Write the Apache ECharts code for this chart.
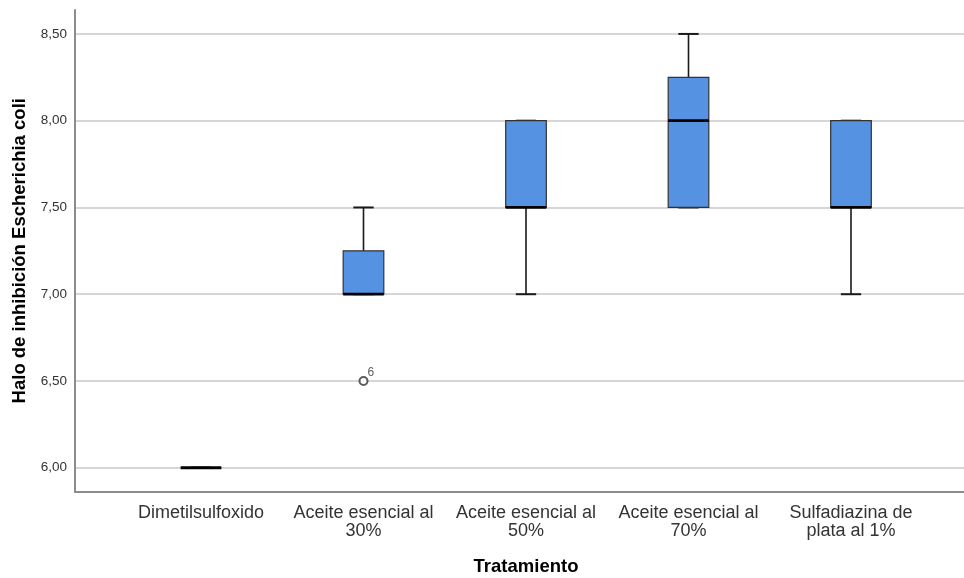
<!DOCTYPE html>
<html>
<head>
<meta charset="utf-8">
<script src="https://cdn.jsdelivr.net/npm/echarts@6/dist/echarts.min.js"></script>
<style>
html,body{margin:0;padding:0;background:#fff;}
#main{width:964px;height:578px;}
</style>
</head>
<body>
<div id="main"></div>
<script>
const categories = ['Dimetilsulfoxido', 'Aceite esencial al\n30%', 'Aceite esencial al\n50%', 'Aceite esencial al\n70%', 'Sulfadiazina de\nplata al 1%'];
const minVals = [6.0, 7.0, 7.0, 7.5, 7.0];
const q1Vals = [6.0, 7.0, 7.5, 7.5, 7.5];
const medianVals = [6.0, 7.0, 7.5, 8.0, 7.5];
const q3Vals = [6.0, 7.25, 8.0, 8.25, 8.0];
const maxVals = [6.0, 7.5, 8.0, 8.5, 8.0];
const outlierPoints = [[1, 6.5]];
const outlierLabels = ['6'];
const yMin = 5.863;
const yMax = 8.638;

const boxData = categories.map((c, i) => [i, minVals[i], q1Vals[i], medianVals[i], q3Vals[i], maxVals[i]]);

const FONT = '"Liberation Sans", Arial, sans-serif';

function renderBox(params, api) {
  const x = api.value(0);
  const pMin = api.coord([x, api.value(1)]);
  const pQ1 = api.coord([x, api.value(2)]);
  const pMed = api.coord([x, api.value(3)]);
  const pQ3 = api.coord([x, api.value(4)]);
  const pMax = api.coord([x, api.value(5)]);
  const bandW = api.size([1, 0])[0];
  const boxW = bandW * 0.25;
  const capW = boxW * 0.5;
  const cx = pMed[0];
  const lineStyle = { stroke: '#1a1a1a', lineWidth: 1.6 };
  return {
    type: 'group',
    children: [
      { type: 'line', shape: { x1: cx, y1: pQ3[1], x2: cx, y2: pMax[1] }, style: lineStyle },
      { type: 'line', shape: { x1: cx, y1: pQ1[1], x2: cx, y2: pMin[1] }, style: lineStyle },
      { type: 'line', shape: { x1: cx - capW / 2, y1: pMax[1], x2: cx + capW / 2, y2: pMax[1] }, style: { stroke: '#1a1a1a', lineWidth: 2 } },
      { type: 'line', shape: { x1: cx - capW / 2, y1: pMin[1], x2: cx + capW / 2, y2: pMin[1] }, style: { stroke: '#1a1a1a', lineWidth: 2 } },
      { type: 'rect', shape: { x: cx - boxW / 2, y: pQ3[1], width: boxW, height: pQ1[1] - pQ3[1] }, style: { fill: '#5592e2', stroke: '#333', lineWidth: 1.2 } },
      { type: 'line', shape: { x1: cx - boxW / 2, y1: pMed[1], x2: cx + boxW / 2, y2: pMed[1] }, style: { stroke: '#000', lineWidth: 2.8 } }
    ]
  };
}

const chart = echarts.init(document.getElementById('main'), null, { renderer: 'canvas' });
chart.setOption({
  backgroundColor: '#ffffff',
  animation: false,
  textStyle: { fontFamily: FONT },
  grid: [
    { left: 75, right: 0, top: 10, bottom: 86.5, containLabel: false, outerBoundsMode: 'none' },
    { left: 119.75, width: 812.5, top: 10, bottom: 86.5, containLabel: false, outerBoundsMode: 'none' }
  ],
  xAxis: [
    {
      gridIndex: 0, type: 'value', min: 0, max: 1,
      axisLine: { show: true, lineStyle: { color: '#8c8c8c', width: 2 } },
      axisTick: { show: false }, axisLabel: { show: false }, splitLine: { show: false }
    },
    {
      gridIndex: 1, type: 'category', data: categories,
      axisLine: { show: false }, axisTick: { show: false },
      axisLabel: { color: '#333', fontSize: 18, fontFamily: FONT, margin: 12, lineHeight: 18.5, interval: 0, align: 'center' },
      name: 'Tratamiento', nameLocation: 'middle', nameGap: 66,
      nameTextStyle: { color: '#000', fontSize: 18.5, fontWeight: 'bold', fontFamily: FONT }
    }
  ],
  yAxis: [
    {
      gridIndex: 0, type: 'value', min: yMin, max: yMax, splitNumber: 5,
      axisLine: { show: true, lineStyle: { color: '#8c8c8c', width: 2 } },
      axisTick: { show: false },
      axisLabel: {
        color: '#333', fontSize: 13.5, fontFamily: FONT, margin: 8,
        showMinLabel: false, showMaxLabel: false,
        formatter: v => (Math.abs(v * 2 - Math.round(v * 2)) < 1e-6) ? v.toFixed(2).replace('.', ',') : ''
      },
      splitLine: { show: true, showMinLine: false, showMaxLine: false, lineStyle: { color: '#c8c8c8', width: 1.5 } },
      name: 'Halo de inhibición Escherichia coli', nameLocation: 'middle', nameGap: 46,
      nameTextStyle: { color: '#000', fontSize: 18.5, fontWeight: 'bold', fontFamily: FONT }
    },
    { gridIndex: 1, type: 'value', min: yMin, max: yMax, show: false }
  ],
  series: [
    {
      type: 'custom', xAxisIndex: 1, yAxisIndex: 1,
      renderItem: renderBox,
      encode: { x: 0, y: [1, 2, 3, 4, 5] },
      data: boxData, z: 3
    },
    {
      type: 'scatter', xAxisIndex: 1, yAxisIndex: 1,
      symbol: 'emptyCircle', symbolSize: 8,
      itemStyle: { color: '#333', borderColor: '#333', borderWidth: 1.3 },
      label: { show: true, formatter: p => outlierLabels[p.dataIndex], position: [9, -9], color: '#333', fontSize: 12, fontFamily: FONT },
      data: outlierPoints, z: 4
    }
  ]
});
</script>
</body>
</html>
